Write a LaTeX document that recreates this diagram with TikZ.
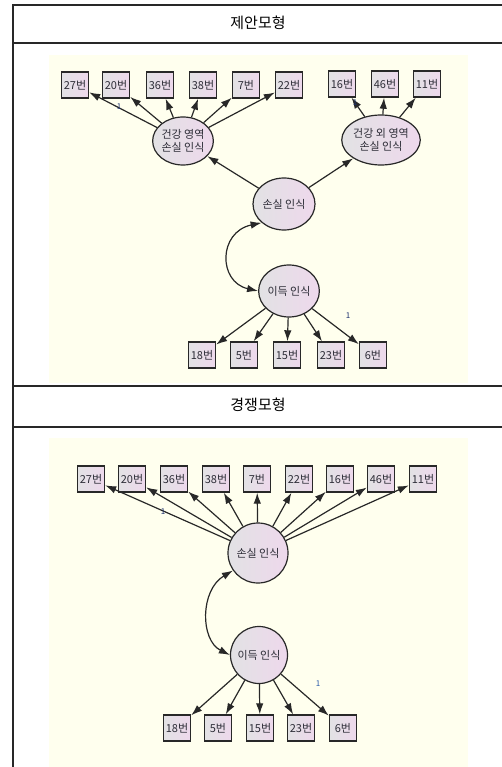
\documentclass[tikz,border=0pt]{standalone}
\usepackage{fontspec}
\setmainfont{Noto Sans CJK KR}
\usetikzlibrary{arrows.meta,shapes.geometric}
\definecolor{cream}{RGB}{255,255,238}
\definecolor{nodeA}{RGB}{226,226,228}
\definecolor{nodeB}{RGB}{238,216,236}
\definecolor{linec}{RGB}{40,40,40}
\definecolor{txtc}{RGB}{45,45,55}
\definecolor{onec}{RGB}{30,50,110}
\tikzset{
  obs/.style={draw=linec, line width=1.4pt, left color=nodeA, right color=nodeB,
    minimum width=27pt, minimum height=26pt, inner sep=0pt, font=\fontsize{11}{12}\selectfont, text=txtc},
  lat/.style={draw=linec, line width=1.2pt, left color=nodeA, right color=nodeB, ellipse,
    inner sep=0pt, font=\fontsize{11}{13}\selectfont, text=txtc, align=center},
  latc/.style={draw=linec, line width=1.2pt, left color=nodeA, right color=nodeB, circle,
    inner sep=0pt, font=\fontsize{11}{13}\selectfont, text=txtc, align=center},
  arr/.style={draw=linec, line width=1.2pt, -{Latex[length=11pt,width=7.5pt]}},
  darr/.style={draw=linec, line width=1.2pt, {Latex[length=11pt,width=7.5pt]}-{Latex[length=11pt,width=7.5pt]}},
  onelab/.style={font=\fontsize{8}{9}\selectfont, text=onec, inner sep=0pt},
  title/.style={font=\fontsize{15}{16}\selectfont, text=black},
  frame/.style={draw=linec, line width=1.3pt}
}
\begin{document}
\begin{tikzpicture}[x=1pt,y=-1pt]
\useasboundingbox (0,0) rectangle (502,767);
\fill[white] (0,0) rectangle (502,767);
% backgrounds
\fill[cream] (49,55) rectangle (468,383);
\fill[cream] (49,438) rectangle (468,767);
% table frame
\draw[frame] (13,767) -- (13,5) -- (502,5);
\draw[frame] (13,43) -- (502,43);
\draw[frame] (13,386) -- (502,386);
\draw[frame] (13,427) -- (502,427);
\node[title] (t1) at (258,23) {제안모형};
\node[title] (t2) at (258,405) {경쟁모형};

% ---------- Panel 1 ----------
\node[obs] (a27) at (75,85) {27번};
\node[obs] (a20) at (116,85) {20번};
\node[obs] (a36) at (160,85) {36번};
\node[obs] (a38) at (203,85) {38번};
\node[obs] (a7)  at (246,85) {7번};
\node[obs] (a22) at (289,85) {22번};
\node[obs] (a16) at (342,84) {16번};
\node[obs] (a46) at (385,84) {46번};
\node[obs] (a11) at (427,84) {11번};
\node[lat, minimum width=60pt, minimum height=48pt] (hl) at (183,141) {건강 영역\\손실 인식};
\node[lat, minimum width=62pt, minimum height=50pt] (nl) at (381,140) {건강 외 영역\\손실 인식};
\node[lat, minimum width=62pt, minimum height=52pt] (ls) at (284,204) {손실 인식};
\node[lat, minimum width=60pt, minimum height=52pt] (gn) at (289,291) {이득 인식};
\node[obs] (b18) at (202,355) {18번};
\node[obs] (b5)  at (244,355) {5번};
\node[obs] (b15) at (287,355) {15번};
\node[obs] (b23) at (331,355) {23번};
\node[obs] (b6)  at (373,355) {6번};
\foreach \t in {a27,a20,a36,a38,a7,a22} \draw[arr] (hl) -- (\t);
\foreach \t in {a16,a46,a11} \draw[arr] (nl) -- (\t);
\draw[arr] (ls) -- (hl);
\draw[arr] (ls) -- (nl);
\foreach \t in {b18,b5,b15,b23,b6} \draw[arr] (gn) -- (\t);
\draw[darr] (ls.220) .. controls (218,232) and (218,282) .. (gn.west);
\node[onelab] (l1) at (119,107) {1};
\node[onelab] (l2) at (355,103) {1};
\node[onelab] (l3) at (348,316) {1};

% ---------- Panel 2 ----------
\node[obs] (c27) at (91,479) {27번};
\node[obs] (c20) at (132,479) {20번};
\node[obs] (c36) at (174,479) {36번};
\node[obs] (c38) at (216,479) {38번};
\node[obs] (c7)  at (257,479) {7번};
\node[obs] (c22) at (299,479) {22번};
\node[obs] (c16) at (340,479) {16번};
\node[obs] (c46) at (381,479) {46번};
\node[obs] (c11) at (423,479) {11번};
\node[latc, minimum size=60pt] (ls2) at (258,553) {손실 인식};
\node[latc, minimum size=57pt] (gn2) at (259,655) {이득 인식};
\node[obs] (d18) at (177,728) {18번};
\node[obs] (d5)  at (218,728) {5번};
\node[obs] (d15) at (260,728) {15번};
\node[obs] (d23) at (301,728) {23번};
\node[obs] (d6)  at (343,728) {6번};
\foreach \t in {c27,c20,c36,c38,c7,c22,c16,c46,c11} \draw[arr] (ls2) -- (\t);
\foreach \t in {d18,d5,d15,d23,d6} \draw[arr] (gn2) -- (\t);
\draw[darr] (ls2.215) .. controls (200,590) and (200,640) .. (gn2.west);
\node[onelab] (l4) at (163,512) {1};
\node[onelab, text={rgb,255:red,40;green,90;blue,170}] (l5) at (318,684) {1};
\end{tikzpicture}
\end{document}
